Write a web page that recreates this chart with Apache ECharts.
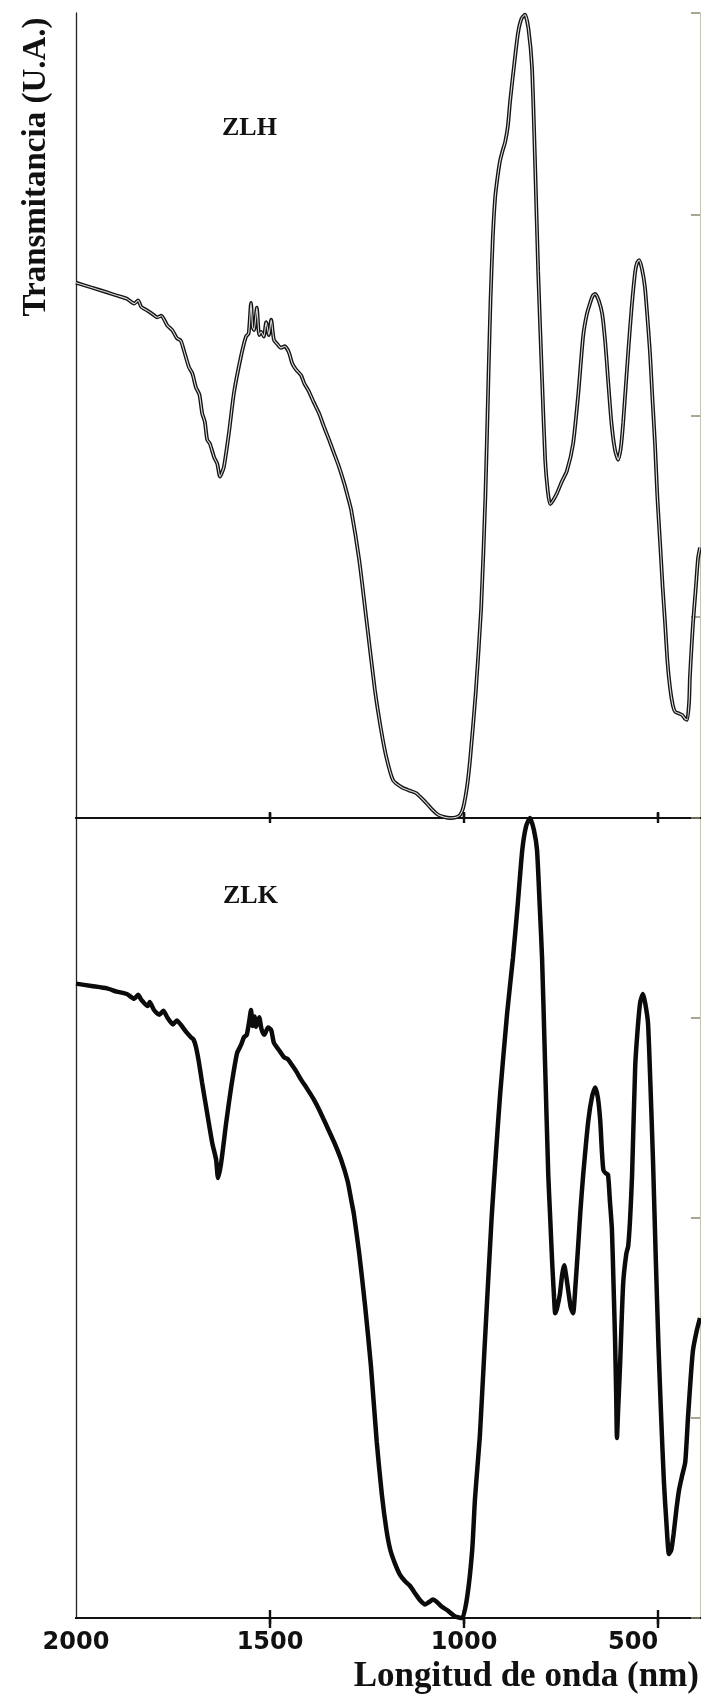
<!DOCTYPE html>
<html>
<head>
<meta charset="utf-8">
<script src="https://cdn.jsdelivr.net/npm/echarts@6/dist/echarts.min.js"></script>
<style>
  html, body { margin: 0; padding: 0; background: #fff; }
  #chart { width: 701px; height: 1697px; }
</style>
</head>
<body>
<div id="chart"></div>
<script>
// Wavelength axis (nm) and its labelled ticks
const tickValues = [2000, 1500, 1000, 500];
const tickLabels = ['2000', '1500', '1000', '500'];

// ZLH spectrum: wavelength (nm) and transmittance (arbitrary units, 0-100)
const zlhNm = [2000, 1960, 1920, 1895, 1869, 1850, 1840, 1832, 1815, 1800, 1791, 1780, 1765, 1752, 1740, 1730, 1722, 1709, 1700, 1691,
  1682, 1675, 1668, 1662, 1655, 1644, 1636, 1629, 1619, 1606, 1593, 1575, 1562, 1555, 1549, 1545, 1541, 1534, 1528, 1523,
  1516, 1510, 1503, 1497, 1490, 1480, 1472, 1462, 1451, 1443, 1433, 1420, 1412, 1400, 1387, 1374, 1361, 1348, 1335, 1322,
  1309, 1300, 1291, 1270, 1250, 1230, 1214, 1200, 1183, 1160, 1140, 1124, 1100, 1085, 1067, 1050, 1036, 1020, 1010, 1002,
  992, 984, 970, 956, 945, 937, 932, 926, 920, 914, 907, 900, 894, 887, 881, 871, 861, 852, 843, 834,
  825, 817, 809, 799, 791, 784, 778, 770, 760, 748, 735, 719, 706, 693, 684, 675, 668, 662, 653, 644,
  636, 629, 620, 611, 603, 596, 590, 577, 568, 559, 554, 549, 542, 534, 528, 521, 515, 508, 502, 495,
  488, 482, 476, 469, 462, 456, 447, 438, 430, 425, 420, 418, 414, 410, 403, 397, 392];
const zlhT = [66.5, 65.9, 65.3, 64.9, 64.5, 63.9, 64.3, 63.5, 63.0, 62.5, 62.2, 62.4, 61.2, 60.6, 59.6, 59.3, 58.1, 56.0, 55.2, 53.5,
  52.6, 50.3, 49.2, 47.0, 46.5, 44.8, 44.0, 42.4, 43.6, 47.8, 52.8, 57.3, 59.8, 60.2, 64.0, 61.0, 60.6, 63.4, 60.0, 60.4,
  59.8, 61.6, 60.0, 61.9, 59.4, 58.8, 58.4, 58.6, 57.8, 56.5, 55.7, 55.0, 54.0, 53.0, 51.6, 50.3, 48.6, 47.0, 45.3, 43.6,
  41.6, 40.0, 38.3, 32.0, 24.0, 16.0, 11.0, 7.5, 4.7, 3.8, 3.4, 3.1, 2.0, 1.2, 0.4, 0.1, 0.0, 0.1, 0.4, 1.3,
  4.0, 7.5, 15.5, 26.0, 40.0, 55.0, 64.0, 72.0, 77.0, 79.5, 81.7, 83.0, 84.0, 86.0, 89.2, 93.5, 97.5, 99.3, 99.8, 98.0,
  93.3, 81.4, 67.9, 54.5, 44.5, 40.5, 39.0, 39.5, 40.4, 41.8, 43.1, 46.5, 52.5, 59.9, 62.5, 64.0, 64.9, 65.1, 64.3, 62.6,
  59.0, 54.5, 49.0, 45.7, 44.5, 46.0, 49.1, 57.9, 63.5, 67.9, 69.0, 69.3, 68.3, 66.0, 62.5, 57.9, 52.5, 46.5, 40.0, 34.3,
  28.5, 24.2, 19.5, 16.1, 14.0, 13.2, 13.0, 12.8, 12.3, 12.2, 14.5, 17.5, 21.0, 24.2, 28.5, 32.3, 33.6];

// ZLK spectrum: wavelength (nm) and transmittance (arbitrary units, 0-100)
const zlkNm = [2000, 1960, 1920, 1895, 1869, 1850, 1840, 1832, 1815, 1810, 1799, 1785, 1775, 1765, 1750, 1740, 1729, 1715, 1704, 1697,
  1691, 1683, 1675, 1662, 1649, 1639, 1634, 1626, 1613, 1600, 1585, 1575, 1567, 1560, 1553, 1549, 1545, 1540, 1536, 1528,
  1522, 1515, 1505, 1497, 1490, 1477, 1464, 1455, 1443, 1432, 1420, 1405, 1387, 1370, 1353, 1335, 1317, 1300, 1291, 1284,
  1270, 1255, 1240, 1225, 1212, 1200, 1190, 1178, 1165, 1152, 1139, 1125, 1113, 1100, 1090, 1080, 1070, 1057, 1044, 1023,
  1005, 992, 979, 972, 964, 959, 948, 929, 918, 907, 889, 874, 862, 850, 840, 830, 820, 812, 805, 799,
  791, 783, 778, 773, 768, 765, 760, 753, 747, 742, 737, 732, 725, 719, 713, 706, 700, 693, 680, 670,
  662, 655, 649, 645, 641, 635, 629, 624, 619, 615, 611, 608, 606, 603, 598, 590, 582, 577, 572, 567,
  559, 552, 546, 539, 533, 526, 520, 513, 506, 499, 492, 485, 478, 472, 466, 460, 453, 446, 438, 430,
  423, 416, 410, 400, 392];
const zlkT = [79.3, 79.0, 78.7, 78.3, 78.0, 77.4, 77.9, 77.3, 76.5, 77.0, 76.0, 75.4, 75.9, 75.1, 74.2, 74.7, 74.1, 73.2, 72.6, 72.3,
  71.4, 69.4, 66.9, 63.1, 59.4, 57.3, 55.0, 56.9, 61.9, 66.4, 70.6, 71.6, 72.6, 72.9, 74.8, 76.0, 74.0, 75.2, 73.9, 75.1,
  73.6, 72.9, 73.8, 73.5, 71.9, 71.0, 70.1, 69.9, 69.1, 68.3, 67.3, 66.2, 64.8, 63.2, 61.4, 59.5, 57.3, 54.6, 52.3, 50.5,
  45.5, 39.0, 31.5, 22.0, 15.5, 11.0, 8.5, 6.8, 5.4, 4.6, 4.0, 3.0, 2.2, 1.7, 2.0, 2.3, 2.0, 1.4, 1.0, 0.2,
  0.0, 2.6, 8.5, 14.8, 19.8, 23.0, 33.0, 50.0, 58.0, 65.5, 75.6, 82.5, 89.0, 96.0, 99.0, 100.0, 98.5, 96.0, 89.0, 82.5,
  68.9, 55.4, 50.0, 44.5, 40.0, 38.1, 38.8, 40.5, 43.0, 44.1, 42.8, 41.1, 38.8, 38.1, 41.5, 46.5, 51.0, 55.4, 62.1, 65.2,
  66.3, 65.0, 62.1, 58.5, 56.0, 55.6, 55.4, 52.0, 48.6, 42.0, 35.0, 28.0, 22.5, 26.0, 31.6, 41.8, 45.5, 46.5, 50.0, 55.4,
  68.9, 74.0, 77.0, 78.0, 76.8, 74.4, 67.0, 57.0, 45.0, 34.0, 25.0, 17.0, 11.5, 8.0, 8.5, 10.5, 13.5, 16.0, 17.8, 19.5,
  25.0, 30.0, 33.5, 36.0, 37.5];

const pairs = (xs, ys) => xs.map((x, i) => [x, ys[i]]);

const X_MIN = 392, X_MAX = 2000;
const INK = '#111';

// One wavelength axis bound to a grid; several are stacked so ticks cross the frame lines
function waveAxis(gridIndex, position, tickInside, tickLen, withLabels) {
  return {
    type: 'value', gridIndex, position, inverse: true, min: X_MIN, max: X_MAX,
    axisLine: { show: true, lineStyle: { color: INK, width: 2 } },
    axisTick: { show: true, inside: tickInside, length: tickLen, customValues: [1500, 1000, 500],
      lineStyle: { color: INK, width: 2.4 } },
    axisLabel: withLabels ? {
      show: true, customValues: tickValues, margin: 13, alignMaxLabel: 'right',
      formatter: v => tickLabels[tickValues.indexOf(v)] || '',
      fontFamily: 'DejaVu Sans', fontWeight: 'bold', fontSize: 24, color: INK
    } : { show: false },
    splitLine: { show: false }
  };
}

function leftAxis(gridIndex) {
  return {
    type: 'value', gridIndex, position: 'left', min: 0, max: 100,
    axisLine: { show: true, lineStyle: { color: '#222', width: 1.3 } },
    axisTick: { show: false }, axisLabel: { show: false }, splitLine: { show: false }
  };
}

function rightAxis(gridIndex) {
  return {
    type: 'value', gridIndex, position: 'right', min: 0, max: 100, interval: 25,
    axisLine: { show: true, lineStyle: { color: '#c9c4a6', width: 1 } },
    axisTick: { show: true, inside: true, length: 9, lineStyle: { color: '#8d8a70', width: 1.5 } },
    axisLabel: { show: false }, splitLine: { show: false }
  };
}

const serif = "'Liberation Serif', 'Times New Roman', serif";

const option = {
  backgroundColor: '#ffffff',
  animation: false,
  grid: [
    { left: 76, top: 13, width: 624, height: 805 },
    { left: 76, top: 818, width: 624, height: 800 }
  ],
  xAxis: [
    waveAxis(0, 'top', true, 5, false),     // 0: frame top, ticks down
    waveAxis(0, 'top', false, 5, false),    // 1: frame top, ticks up
    waveAxis(0, 'bottom', true, 6, false),  // 2: divider, ticks up (ZLH series)
    waveAxis(1, 'top', true, 6, false),     // 3: divider, ticks down
    waveAxis(1, 'bottom', true, 8, true),   // 4: bottom axis with labels (ZLK series)
    waveAxis(1, 'bottom', false, 10, false) // 5: bottom axis, ticks down
  ],
  yAxis: [leftAxis(0), rightAxis(0), leftAxis(1), rightAxis(1)],
  series: [
    {
      name: 'ZLH', type: 'line', xAxisIndex: 2, yAxisIndex: 0,
      data: pairs(zlhNm, zlhT), showSymbol: false, smooth: 0.2, clip: false,
      lineStyle: { color: '#141414', width: 3.8 }, z: 3
    },
    {
      name: 'ZLH-core', type: 'line', xAxisIndex: 2, yAxisIndex: 0,
      data: pairs(zlhNm, zlhT), showSymbol: false, smooth: 0.2, clip: false,
      lineStyle: { color: '#dcdcdc', width: 1.1 }, z: 4, silent: true
    },
    {
      name: 'ZLK', type: 'line', xAxisIndex: 4, yAxisIndex: 2,
      data: pairs(zlkNm, zlkT), showSymbol: false, smooth: 0.2, clip: false,
      lineStyle: { color: '#0b0b0b', width: 4.5 }, z: 3
    }
  ],
  graphic: [
    { type: 'text', x: 222, y: 128, z: 10,
      style: { text: 'ZLH', font: 'bold 26px ' + serif, fill: INK, align: 'left', verticalAlign: 'middle' } },
    { type: 'text', x: 223, y: 896, z: 10,
      style: { text: 'ZLK', font: 'bold 26px ' + serif, fill: INK, align: 'left', verticalAlign: 'middle' } },
    { type: 'text', x: 36, y: 167, rotation: Math.PI / 2, z: 10,
      style: { text: 'Transmitancia (U.A.)', font: 'bold 33px ' + serif, fill: INK, align: 'center', verticalAlign: 'middle' } },
    { type: 'text', x: 699, y: 1677, z: 10,
      style: { text: 'Longitud de onda (nm)', font: 'bold 35px ' + serif, fill: INK, align: 'right', verticalAlign: 'middle' } }
  ]
};

const chart = echarts.init(document.getElementById('chart'), null, { renderer: 'canvas' });
chart.setOption(option);
</script>
</body>
</html>
